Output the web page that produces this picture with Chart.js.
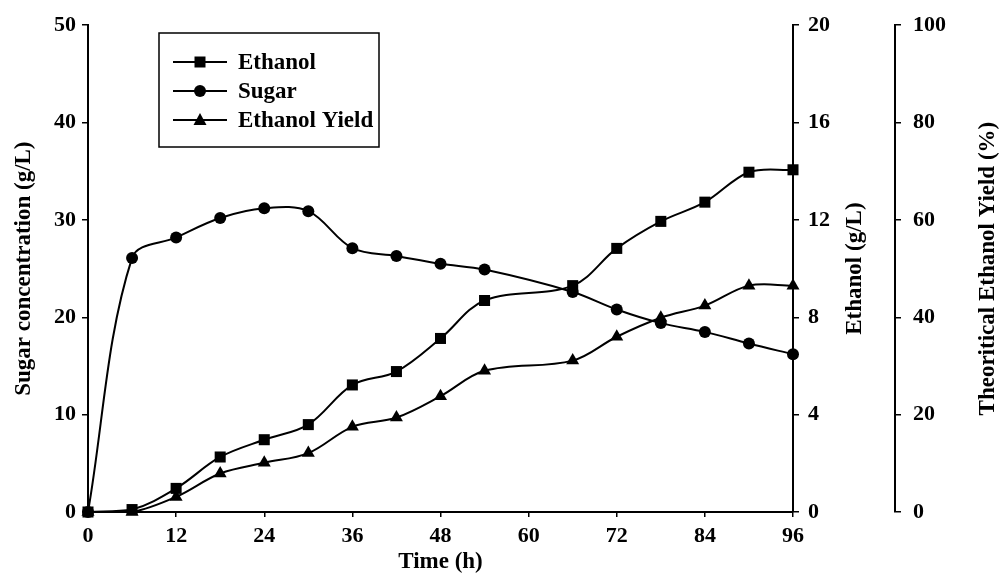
<!DOCTYPE html>
<html>
<head>
<meta charset="utf-8">
<script src="https://cdn.jsdelivr.net/npm/chart.js@4.4.1/dist/chart.umd.min.js"></script>
<style>
  html, body { margin: 0; padding: 0; background: #fff; }
  #wrap { width: 1005px; height: 577px; }
</style>
</head>
<body>
<div id="wrap"><canvas id="chart" width="1005" height="577"></canvas></div>
<script>
// values
const hours    = [0, 6, 12, 18, 24, 30, 36, 42, 48, 54, 66, 72, 78, 84, 90, 96];
const sugar    = [0, 26.1, 28.2, 30.2, 31.2, 30.9, 27.1, 26.3, 25.5, 24.9, 22.6, 20.8, 19.4, 18.5, 17.3, 16.2];
const ethanol  = [0, 0.1, 0.97, 2.26, 2.97, 3.59, 5.22, 5.77, 7.13, 8.69, 9.3, 10.83, 11.94, 12.73, 13.96, 14.06];
const yieldPct = [0, 0, 3.1, 7.9, 10.1, 12.1, 17.5, 19.4, 23.8, 29.0, 31.1, 36.0, 39.9, 42.4, 46.5, 46.5];

const timeTicks   = { min: 0, max: 96, step: 12 };
const sugarTicks  = { min: 0, max: 50, step: 10 };
const ethTicks    = { min: 0, max: 20, step: 4 };
const yieldTicks  = { min: 0, max: 100, step: 20 };

const FONT = '"Liberation Serif", "Times New Roman", serif';
const tickFont = { family: FONT, size: 22, weight: 'bold' };
const titleFont = { family: FONT, size: 23, weight: 'bold' };

const pts = (ys) => hours.map((h, i) => ({ x: h, y: ys[i] }));

function drawMarker(ctx, style, x, y) {
    ctx.beginPath();
    if (style === 'rect') {
        ctx.rect(x - 5.5, y - 5.5, 11, 11);
    } else if (style === 'circle') {
        ctx.arc(x, y, 6, 0, Math.PI * 2);
    } else {
        ctx.moveTo(x, y - 7);
        ctx.lineTo(x + 6.5, y + 5);
        ctx.lineTo(x - 6.5, y + 5);
        ctx.closePath();
    }
    ctx.fill();
}

// right-hand axis titles (read bottom-to-top) and the boxed legend
const extras = {
    id: 'extras',
    afterDraw(chart) {
        const ctx = chart.ctx;
        const area = chart.chartArea;
        const midY = (area.top + area.bottom) / 2;
        ctx.save();
        ctx.fillStyle = '#000';
        ctx.font = 'bold 23px ' + FONT;
        ctx.textAlign = 'center';
        ctx.textBaseline = 'middle';
        [['yEth', 'Ethanol (g/L)', 62], ['yYield', 'Theoritical Ethanol Yield (%)', 93]].forEach(([id, text, dx]) => {
            const s = chart.scales[id];
            ctx.save();
            ctx.translate(s.left + dx, midY);
            ctx.rotate(-Math.PI / 2);
            ctx.fillText(text, 0, 0);
            ctx.restore();
        });

        // legend
        const box = { x: 159, y: 33, w: 220, h: 114 };
        ctx.fillStyle = '#fff';
        ctx.fillRect(box.x, box.y, box.w, box.h);
        ctx.strokeStyle = '#000';
        ctx.lineWidth = 1.5;
        ctx.strokeRect(box.x, box.y, box.w, box.h);
        ctx.textAlign = 'left';
        ctx.font = 'bold 23px ' + FONT;
        chart.data.datasets.forEach((ds, i) => {
            const y = 62 + i * 29;
            ctx.strokeStyle = '#000';
            ctx.lineWidth = 2;
            ctx.beginPath();
            ctx.moveTo(173, y);
            ctx.lineTo(227, y);
            ctx.stroke();
            ctx.fillStyle = '#000';
            drawMarker(ctx, ds.pointStyle, 200, y);
            ctx.fillText(ds.label, 238, y + 1);
        });
        ctx.restore();
    }
};

const lineDs = (label, data, axis, style, radius) => ({
    label: label,
    data: pts(data),
    yAxisID: axis,
    borderColor: '#000',
    backgroundColor: '#000',
    borderWidth: 2,
    pointStyle: style,
    pointRadius: radius,
    pointBorderWidth: 0,
    tension: 0.35,
    clip: false
});

const axisGrid = { drawOnChartArea: false, drawTicks: true, tickLength: 6, color: '#000', lineWidth: 1.5 };
const axisBorder = { display: true, color: '#000', width: 2 };

new Chart(document.getElementById('chart'), {
    type: 'line',
    data: {
        datasets: [
            lineDs('Ethanol', ethanol, 'yEth', 'rect', 7.8),
            lineDs('Sugar', sugar, 'ySugar', 'circle', 6),
            lineDs('Ethanol Yield', yieldPct, 'yYield', 'triangle', 7.5)
        ]
    },
    options: {
        responsive: false,
        animation: false,
        layout: { padding: { top: 21, left: 0, right: 0, bottom: 0 } },
        plugins: { legend: { display: false }, tooltip: { enabled: false } },
        scales: {
            x: {
                type: 'linear',
                min: timeTicks.min, max: timeTicks.max,
                ticks: { stepSize: timeTicks.step, color: '#000', font: tickFont, padding: 6, maxRotation: 0 },
                grid: Object.assign({}, axisGrid, { tickLength: 5 }),
                border: axisBorder,
                title: { display: true, text: 'Time (h)', color: '#000', font: titleFont, padding: { top: 0, bottom: 1 } },
                afterFit: (s) => { s.height = 65; }
            },
            ySugar: {
                position: 'left',
                min: sugarTicks.min, max: sugarTicks.max,
                ticks: { stepSize: sugarTicks.step, color: '#000', font: tickFont, padding: 6 },
                grid: axisGrid,
                border: axisBorder,
                title: { display: true, text: 'Sugar concentration (g/L)', color: '#000', font: titleFont, padding: { top: 10, bottom: 0 } },
                afterFit: (s) => { s.width = 88; }
            },
            yEth: {
                position: 'right',
                min: ethTicks.min, max: ethTicks.max,
                ticks: { stepSize: ethTicks.step, color: '#000', font: tickFont, padding: 9 },
                grid: axisGrid,
                border: axisBorder,
                afterFit: (s) => { s.width = 102; }
            },
            yYield: {
                position: 'right',
                min: yieldTicks.min, max: yieldTicks.max,
                ticks: { stepSize: yieldTicks.step, color: '#000', font: tickFont, padding: 12 },
                grid: axisGrid,
                border: axisBorder,
                afterFit: (s) => { s.width = 110; }
            }
        }
    },
    plugins: [extras]
});
</script>
</body>
</html>
